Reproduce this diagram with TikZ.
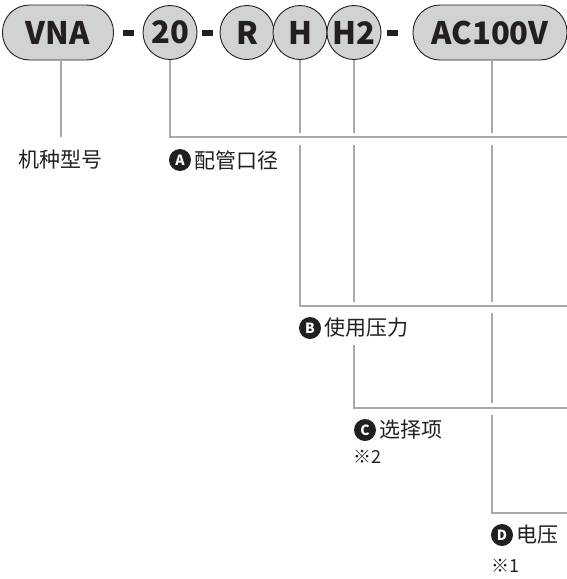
\documentclass[tikz,border=0pt]{standalone}
\usepackage{fontspec}
\setmainfont{Noto Sans CJK SC}
\usetikzlibrary{positioning}

\definecolor{pillgray}{HTML}{D1D2D4}
\definecolor{leadgray}{HTML}{A7A9AC}
\definecolor{ink}{HTML}{231F20}

\tikzset{
  pill/.style={draw=ink, line width=0.9pt, fill=pillgray, rounded corners=27pt,
    minimum height=55pt, inner sep=0pt, text=ink,
    font=\bfseries\fontsize{31}{31}\selectfont},
  code/.style={draw=ink, line width=0.9pt, fill=pillgray, circle, minimum size=54pt,
    inner sep=0pt, text=ink, font=\bfseries\fontsize{31}{31}\selectfont},
  hyph/.style={fill=ink, inner sep=0pt, minimum width=11pt, minimum height=5.5pt},
  lead/.style={draw=leadgray, line width=2pt},
  badge/.style={circle, fill=ink, text=white, inner sep=0pt, minimum size=22pt,
    font=\bfseries\fontsize{14}{14}\selectfont},
  desc/.style={inner sep=0pt, text=ink, font=\fontsize{21}{21}\selectfont},
  note/.style={inner sep=0pt, text=ink, anchor=west, font=\fontsize{18}{18}\selectfont},
}

\begin{document}
\begin{tikzpicture}[x=1pt, y=-1pt]
\useasboundingbox (0,0) rectangle (567,579);

% Draw model code
\node[pill, minimum width=111pt] (VNA) at (58,32.5) {VNA};
\node[hyph] (h1) at (128.5,33) {};
\node[code] (n20) at (170,32.5) {20};
\node[hyph] (h2) at (207.5,33) {};
\node[code] (nR) at (247,32.5) {R};
\node[code] (nH) at (300,32.5) {H};
\node[code] (nH2) at (354,32.5) {H2};
\node[hyph] (h3) at (392.5,33) {};
\node[pill, minimum width=154pt] (AC) at (490,32.5) {AC100V};

% Rows of the leaders
\coordinate (rowA) at (567,137);
\coordinate (rowB) at (567,306);
\coordinate (rowC) at (567,408);
\coordinate (rowD) at (567,513);

% Draw labels
\node[desc] (kind) at (61,160) {机种型号};
\node[badge] (bA) at (180,160) {A};
\node[desc, right=3pt of bA] (tA) {配管口径};
\node[badge] (bB) at (310,328) {B};
\node[desc, right=3pt of bB] (tB) {使用压力};
\node[badge] (bC) at (365,430) {C};
\node[desc, right=3pt of bC] (tC) {选择项};
\node[note] (nC) at (353,457) {※2};
\node[badge] (bD) at (502,535) {D};
\node[desc, right=3pt of bD] (tD) {电压};
\node[note] (nD) at (491,566) {※1};

% Draw leaders
\draw[lead] ([xshift=3pt]VNA.south) -- ([xshift=3pt]VNA.south |- rowA);
\draw[lead] (n20.south) |- (rowA);

\draw[lead] (nH.south) -- ([yshift=4pt]nH.south |- rowA);
\draw[lead] ([yshift=-8pt]nH.south |- rowA) |- (rowB);

\draw[lead] (nH2.south) -- ([yshift=4pt]nH2.south |- rowA);
\draw[lead] ([yshift=-8pt]nH2.south |- rowA) -- ([yshift=4pt]nH2.south |- rowB);
\draw[lead] ([yshift=-39pt]nH2.south |- rowB) |- (rowC);

\draw[lead] ([xshift=2pt]AC.south) -- ([xshift=2pt, yshift=4pt]AC.south |- rowA);
\draw[lead] ([xshift=2pt, yshift=-8pt]AC.south |- rowA) -- ([xshift=2pt, yshift=4pt]AC.south |- rowB);
\draw[lead] ([xshift=2pt, yshift=-7pt]AC.south |- rowB) -- ([xshift=2pt, yshift=5pt]AC.south |- rowC);
\draw[lead] ([xshift=2pt, yshift=-7pt]AC.south |- rowC) |- (rowD);
\end{tikzpicture}
\end{document}
